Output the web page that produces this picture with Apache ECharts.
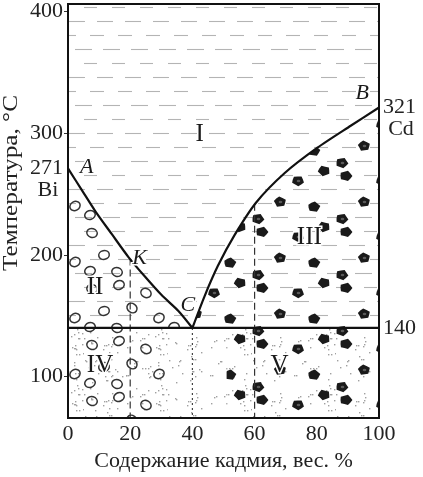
<!DOCTYPE html>
<html><head><meta charset="utf-8">
<script src="https://cdn.jsdelivr.net/npm/echarts@6/dist/echarts.min.js"></script>
<style>html,body{margin:0;padding:0;background:#fff}#c{width:423px;height:477px}</style>
</head><body><div id="c"></div>
<script>
// ---- data ----
const xTicks = [0, 20, 40, 60, 80, 100];
const leftTicks = [100, 200, 271, 300, 400];
const rightTicks = [140, 321];
const liquidusBi = [[0,271],[4.5,253],[8.75,236],[14.1,217],[19.5,198],[24.8,182],[30.1,167],[35.5,154],[40,140]];
const liquidusCd = [[40,140],[43.9,166],[48.2,191],[53.5,216],[60.5,243],[69.6,267],[80.2,288],[90.9,306],[100,321]];
const eutecticT = 140;
const alloyDashed = [[20,197],[60,242]];
const alloyDotted = [[40,140]];
const pointLabels = [['A',6,272],['B',94.6,333],['C',38.5,159],['K',23,197]];
const regionLabels = [['I',42.3,299],['II',8.7,173],['III',77.6,214],['IV',10.3,109],['V',68,109]];
const pureMetals = [['Bi',0,271],['Cd',100,321]];
const xName = 'Содержание кадмия, вес. %';
const yName = 'Температура, °С';

// ---- axis extent / style ----
const Y_MIN = 66, Y_MAX = 406;
const FONT = 'Liberation Serif';

// textures (decoration only)
function makeTile(o){
  const w = 84, h = 56;
  const c = document.createElement('canvas'); c.width = w; c.height = h;
  const g = c.getContext('2d');
  g.fillStyle = '#fff'; g.fillRect(0,0,w,h);
  const wrap = (x, y, fn) => { for (const dx of [-w,0,w]) for (const dy of [-h,0,h]) fn(x+dx, y+dy); };
  if (o.dots){
    let s = 12345; const nx = () => { s = (s * 16807) % 2147483647; return s / 2147483647; };
    g.fillStyle = '#a0a0a0';
    for (let i = 0; i < (o.dense ? 85 : 60); i++){ g.fillRect(Math.floor(nx()*w), Math.floor(nx()*h), 1.4, 1.4); }
  }
  if (o.dashes){
    g.strokeStyle = '#b4b4b4'; g.lineWidth = 1.1;
    const offs = [0, 13, 6, 19];
    for (let r = 0; r < 4; r++){
      const y = r*14 + 7.5;
      for (let i = -1; i < 4; i++){
        const x = offs[r] + i*28, len = 13 + ((r*3 + i*5 + 10) % 5);
        g.beginPath(); g.moveTo(x, y); g.lineTo(x+len, y); g.stroke();
      }
    }
  }
  if (o.circles){
    const P = [[8,9,0.3],[35,5,-0.4],[62,13,0.5],[20,31,-0.2],[48,28,0.6],[75,38,-0.5],[33,48,0.3],[6,47,-0.3]];
    g.strokeStyle = '#333'; g.lineWidth = 1.5;
    P.forEach(p => wrap(p[0], p[1], (x, y) => { g.beginPath(); g.ellipse(x, y, 5.3, 4.4, p[2], 0, Math.PI*2); g.stroke(); }));
  }
  if (o.blobs){
    const P = [[10,8],[46,13],[72,3],[28,34],[62,39],[6,51]];
    const v = [0.9,-0.5,0.6,-0.8,0.7,-0.2,1.0,-0.6];
    P.forEach((p, k) => wrap(p[0], p[1], (cx, cy) => {
      g.fillStyle = '#1a1a1a';
      g.beginPath();
      for (let i = 0; i < 10; i++){
        const a = i/10*Math.PI*2 + k*0.9, r = 5.4 + v[(i+k)%8]*0.8;
        const px = cx + Math.cos(a)*r*1.05, py = cy + Math.sin(a)*r*0.9;
        i ? g.lineTo(px, py) : g.moveTo(px, py);
      }
      g.closePath(); g.fill();
      if (k % 2){ g.fillStyle = '#5a5a5a'; g.beginPath(); g.ellipse(cx+0.5, cy, 1.8, 1.3, 0, 0, Math.PI*2); g.fill(); }
    }));
  }
  return c;
}
const tiles = {
  liquid: makeTile({dashes:true}),
  liqBi: makeTile({dashes:true, circles:true}),
  liqCd: makeTile({dashes:true, blobs:true}),
  eutBi: makeTile({dots:true, dense:true, circles:true}),
  eut: makeTile({dots:true}),
  eutCd: makeTile({dots:true, blobs:true})
};
const regions = [
  {pts: [[0,Y_MAX], ...liquidusBi, ...liquidusCd.slice(1), [100,Y_MAX]], tile: tiles.liquid},
  {pts: [...liquidusBi, [0,eutecticT]], tile: tiles.liqBi},
  {pts: [...liquidusCd, [100,eutecticT]], tile: tiles.liqCd},
  {pts: [[0,eutecticT],[32,eutecticT],[32,Y_MIN],[0,Y_MIN]], tile: tiles.eutBi},
  {pts: [[32,eutecticT],[51,eutecticT],[51,Y_MIN],[32,Y_MIN]], tile: tiles.eut},
  {pts: [[51,eutecticT],[100,eutecticT],[100,Y_MIN],[51,Y_MIN]], tile: tiles.eutCd}
];

function vLines(list){ const d = []; list.forEach(p => { d.push([p[0], p[1]], [p[0], Y_MIN], '-'); }); return d; }

const chart = echarts.init(document.getElementById('c'), null, {renderer:'canvas'});
const txt = {fontFamily: FONT, color: '#222'};
const clearText = {textBorderColor: '#fff', textBorderWidth: 3};
chart.setOption({
  animation: false,
  backgroundColor: '#fff',
  grid: {left: 68, right: 44, top: 4, bottom: 56},
  xAxis: {
    type: 'value', min: 0, max: 100, interval: 20,
    axisLine: {show: false}, axisTick: {show: false}, splitLine: {show: false},
    axisLabel: Object.assign({fontSize: 22, margin: 5}, txt),
    name: xName, nameLocation: 'middle', nameGap: 31,
    nameTextStyle: Object.assign({fontSize: 22}, txt)
  },
  yAxis: [{
    type: 'value', min: Y_MIN, max: Y_MAX, position: 'left',
    axisLine: {show: false}, splitLine: {show: false},
    axisTick: {show: true, length: 4, customValues: [100,200,300,400], lineStyle: {color: '#333'}},
    axisLabel: Object.assign({fontSize: 22, margin: 5, customValues: leftTicks}, txt)
  }, {
    type: 'value', min: Y_MIN, max: Y_MAX, position: 'right',
    axisLine: {show: false}, splitLine: {show: false}, axisTick: {show: false},
    axisLabel: Object.assign({fontSize: 22, margin: 4, customValues: rightTicks}, txt)
  }],
  graphic: [{
    type: 'text', x: 11, y: 183, rotation: Math.PI/2, scaleX: 1.2,
    style: {text: yName, font: '21px "' + FONT + '"', fill: '#222', align: 'center', verticalAlign: 'middle'}
  }],
  series: [
    {
      type: 'custom', silent: true, z: 1, clip: true,
      data: regions.map((r, i) => [i, 0]),
      renderItem: (params, api) => {
        const r = regions[params.dataIndex];
        return {type: 'polygon', shape: {points: r.pts.map(p => api.coord(p))},
                style: {fill: {image: r.tile, repeat: 'repeat'}, stroke: null}};
      }
    },
    {type: 'line', data: vLines(alloyDashed), symbol: 'none', connectNulls: false, z: 3,
     lineStyle: {color: '#333', width: 1.2, type: [7, 4]}},
    {type: 'line', data: vLines(alloyDotted), symbol: 'none', connectNulls: false, z: 3,
     lineStyle: {color: '#444', width: 1.2, type: [2, 3]}},
    {type: 'line', data: liquidusBi, symbol: 'none', smooth: 0.25, z: 4, lineStyle: {color: '#111', width: 2.2}},
    {type: 'line', data: liquidusCd, symbol: 'none', smooth: 0.25, z: 4, lineStyle: {color: '#111', width: 2.2}},
    {type: 'line', data: [[0, eutecticT], [100, eutecticT]], symbol: 'none', z: 4, lineStyle: {color: '#111', width: 2.2}},
    {
      type: 'custom', silent: true, z: 6, clip: false, data: [[0, 0]],
      renderItem: (params, api) => {
        const a = api.coord([0, Y_MAX]), b = api.coord([100, Y_MIN]);
        return {type: 'rect', shape: {x: a[0], y: a[1], width: b[0]-a[0], height: b[1]-a[1]},
                style: {fill: null, stroke: '#111', lineWidth: 2}};
      }
    },
    {type: 'scatter', symbolSize: 0, z: 7, silent: true, itemStyle: {opacity: 1},
     data: pointLabels.map(d => [d[1], d[2], d[0]]),
     label: Object.assign({show: true, position: 'inside', formatter: p => p.data[2], fontSize: 22, fontStyle: 'italic', fontFamily: FONT, color: '#1a1a1a'}, clearText)},
    {type: 'scatter', symbolSize: 0, z: 7, silent: true, itemStyle: {opacity: 1},
     data: regionLabels.map(d => [d[1], d[2], d[0]]),
     label: Object.assign({show: true, position: 'inside', formatter: p => p.data[2], fontSize: 25, fontFamily: FONT, color: '#1a1a1a'}, clearText)},
    {type: 'scatter', symbolSize: 0, z: 7, silent: true, itemStyle: {opacity: 1},
     data: pureMetals.map(d => ({value: [d[1], d[2], d[0]], label: {offset: d[1] === 0 ? [-20, 22] : [22, 22]}})),
     label: {show: true, position: 'inside', formatter: p => p.data.value[2], fontSize: 22, fontFamily: FONT, color: '#222'}}
  ]
});
</script></body></html>
